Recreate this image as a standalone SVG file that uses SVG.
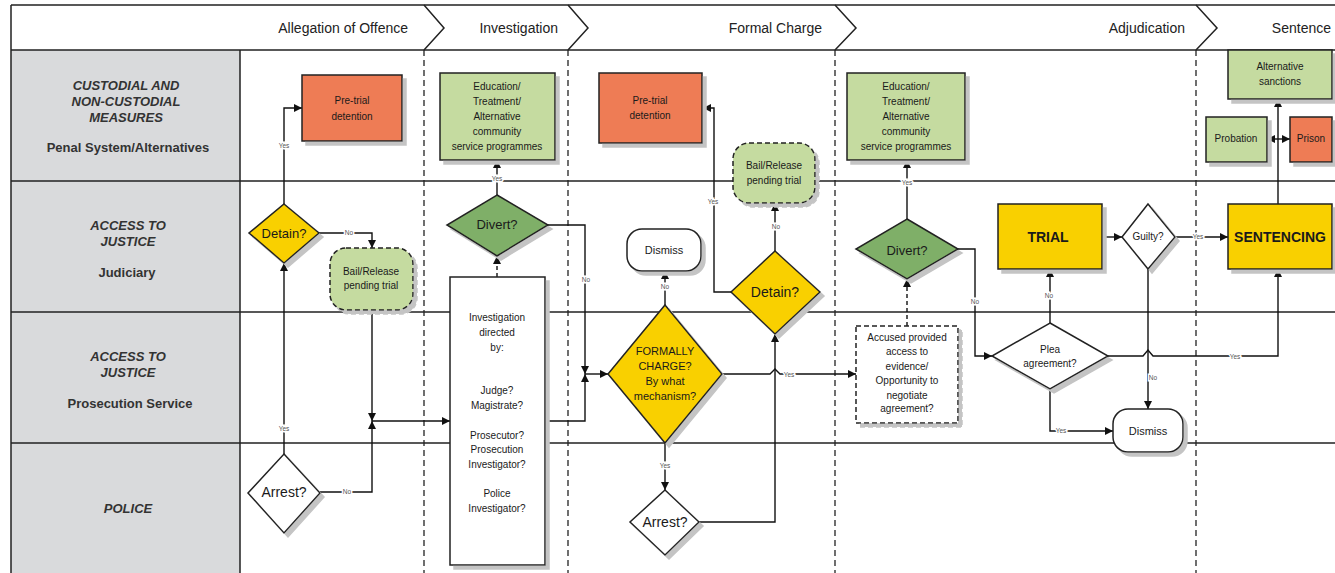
<svg xmlns="http://www.w3.org/2000/svg" width="1335" height="573" viewBox="0 0 1335 573">
<style>
text{font-family:"Liberation Sans",Arial,sans-serif;fill:#1a1a1a;text-anchor:middle}
.hd{font-size:14px;text-anchor:end;fill:#222}
.lane{font-size:13px;font-weight:bold;font-style:italic;fill:#333}
.sub{font-size:13px;font-weight:bold;fill:#333}
.grid{stroke:#222;stroke-width:1.5;fill:none}
.phase{stroke:#222;stroke-width:1.3;stroke-dasharray:6,4;fill:none}
.n{stroke:#222;stroke-width:1.5}
.dash{stroke-dasharray:5,3}
.org{fill:#EE7B55}
.lg{fill:#C5DBA0}
.dg{fill:#7FAF67}
.yl{fill:#F9D000}
.wh{fill:#fff}
.t10{font-size:10px}
.t11{font-size:11px}
.t13{font-size:13px}
.t14{font-size:14px}
.b14{font-size:14px;font-weight:bold}
.c{stroke:#111;stroke-width:1.4;fill:none;marker-end:url(#ah)}
.cn{stroke:#111;stroke-width:1.4;fill:none}
.cd{stroke-dasharray:4,3}
.lb{font-size:6.5px;fill:#555;stroke:#fff;stroke-width:3;paint-order:stroke}
</style>
<defs>
<marker id="ah" viewBox="0 0 10 10" refX="10" refY="5" markerWidth="8" markerHeight="8" markerUnits="userSpaceOnUse" orient="auto"><path d="M0,0 L10,5 L0,10 z" fill="#111"/></marker>
<filter id="sh" x="-10%" y="-10%" width="130%" height="130%"><feOffset in="SourceAlpha" dx="4" dy="4" result="o"/><feFlood flood-color="#c4c4c4"/><feComposite in2="o" operator="in" result="s"/><feMerge><feMergeNode in="s"/><feMergeNode in="SourceGraphic"/></feMerge></filter>
</defs>
<rect width="1335" height="573" fill="#fff"/>
<g id="frame">
<rect x="11" y="50" width="229" height="523" fill="#D9DADC"/>
<path class="grid" d="M11,5 H1335 M11,50 H1335 M11,181 H1335 M11,312 H1335 M11,443 H1335 M11,5 V573 M240,50 V573"/>
<path class="phase" d="M424,50 V573 M568,50 V573 M835,50 V573 M1196,50 V573"/>
<path class="grid" stroke-width="1.2" d="M424,5 L444,28 L424,50 M568,5 L588,28 L568,50 M835,5 L856,28 L835,50 M1196,5 L1217,28 L1196,50"/>
<text class="hd" x="408" y="33">Allegation of Offence</text>
<text class="hd" x="558" y="33">Investigation</text>
<text class="hd" x="822" y="33">Formal Charge</text>
<text class="hd" x="1185" y="33">Adjudication</text>
<text class="hd" x="1331" y="33">Sentence</text>
<text class="lane" x="126" y="90">CUSTODIAL AND</text>
<text class="lane" x="126" y="106">NON-CUSTODIAL</text>
<text class="lane" x="126" y="122">MEASURES</text>
<text class="sub" x="128" y="152">Penal System/Alternatives</text>
<text class="lane" x="128" y="230">ACCESS TO</text>
<text class="lane" x="128" y="246">JUSTICE</text>
<text class="sub" x="127" y="277">Judiciary</text>
<text class="lane" x="128" y="361">ACCESS TO</text>
<text class="lane" x="128" y="377">JUSTICE</text>
<text class="sub" x="130" y="408">Prosecution Service</text>
<text class="lane" x="128" y="513">POLICE</text>
</g>
<g id="connectors">
<path class="c" d="M284,454 V263"/>
<text class="lb" x="284" y="431">Yes</text>
<path class="c" d="M284,204 V108 H302"/>
<text class="lb" x="284" y="148">Yes</text>
<path class="c" d="M319,233 H372 V248"/>
<text class="lb" x="349" y="235">No</text>
<path class="c" d="M372,310 V421"/>
<path class="c" d="M319,492 H372 V421"/>
<text class="lb" x="347" y="494">No</text>
<path class="c" d="M372,421 H450"/>
<path class="c cd" d="M497,277 V256"/>
<path class="c" d="M497,195 V160"/>
<text class="lb" x="497" y="181">Yes</text>
<path class="c" d="M548,225 H585 V374"/>
<text class="lb" x="586" y="282">No</text>
<path class="c" d="M545,421 H585 V374"/>
<path class="c" d="M585,374 H608"/>
<path class="c" d="M665,305 V271"/>
<text class="lb" x="665" y="289">No</text>
<path class="c" d="M665,443 V490"/>
<text class="lb" x="665" y="468">Yes</text>
<path class="c" d="M699,522 H775 V334"/>
<path class="c" d="M722,374 H770 L775,369 L780,374 H856"/>
<text class="lb" x="789" y="377">Yes</text>
<path class="c" d="M775,251 V203"/>
<text class="lb" x="776" y="229">No</text>
<path class="c" d="M731,292 H714 V108 H703"/>
<text class="lb" x="713" y="204">Yes</text>
<path class="c cd" d="M907,326 V279"/>
<path class="c" d="M907,219 V160"/>
<text class="lb" x="907" y="185">Yes</text>
<path class="c" d="M958,249 H975 V356 H992"/>
<text class="lb" x="975" y="304">No</text>
<path class="c" d="M1050,323 V269"/>
<text class="lb" x="1049" y="298">No</text>
<path class="c" d="M1102,237 H1122"/>
<path class="c" d="M1175,237 H1228"/>
<text class="lb" x="1198" y="239">Yes</text>
<path class="c" d="M1148,269 V409"/>
<text class="lb" x="1153" y="380">No</text>
<path class="c" d="M1108,356 H1143 L1148,350 L1153,356 H1278 V269"/>
<text class="lb" x="1235" y="359">Yes</text>
<path class="c" d="M1050,389 V431 H1113"/>
<text class="lb" x="1061" y="433">Yes</text>
<path class="c" d="M1278,204 V99"/>
<path class="c" d="M1278,139 H1267"/>
<path class="c" d="M1278,139 H1290"/>
</g>
<g id="pretrial1"><rect class="n org" x="302" y="75" width="100" height="66" filter="url(#sh)"/><text class="t10" x="352" y="104">Pre-trial</text><text class="t10" x="352" y="120">detention</text></g>
<g id="edu1"><rect class="n lg" x="440" y="73" width="115" height="87" filter="url(#sh)"/><text class="t10" x="497" y="90">Education/</text><text class="t10" x="497" y="105">Treatment/</text><text class="t10" x="497" y="120">Alternative</text><text class="t10" x="497" y="135">community</text><text class="t10" x="497" y="150">service programmes</text></g>
<g id="pretrial2"><rect class="n org" x="599" y="73" width="103" height="70" filter="url(#sh)"/><text class="t10" x="650" y="104">Pre-trial</text><text class="t10" x="650" y="119">detention</text></g>
<g id="bail2"><rect class="n lg dash" x="733" y="143" width="82" height="60" rx="16" filter="url(#sh)"/><text class="t10" x="774" y="169">Bail/Release</text><text class="t10" x="774" y="184">pending trial</text></g>
<g id="edu2"><rect class="n lg" x="847" y="73" width="118" height="87" filter="url(#sh)"/><text class="t10" x="906" y="90">Education/</text><text class="t10" x="906" y="105">Treatment/</text><text class="t10" x="906" y="120">Alternative</text><text class="t10" x="906" y="135">community</text><text class="t10" x="906" y="150">service programmes</text></g>
<g id="altsanctions"><rect class="n lg" x="1228" y="50" width="104" height="49" filter="url(#sh)"/><text class="t10" x="1280" y="70">Alternative</text><text class="t10" x="1280" y="85">sanctions</text></g>
<g id="probation"><rect class="n lg" x="1206" y="117" width="61" height="45" filter="url(#sh)"/><text class="t10" x="1236" y="142">Probation</text></g>
<g id="prison"><rect class="n org" x="1290" y="117" width="42" height="45" filter="url(#sh)"/><text class="t10" x="1311" y="142">Prison</text></g>
<g id="detain1"><path class="n yl" d="M284,204 L319,233 L284,263 L249,233 Z" filter="url(#sh)"/><text class="t13" x="284" y="238">Detain?</text></g>
<g id="bail1"><rect class="n lg dash" x="330" y="248" width="83" height="62" rx="16" filter="url(#sh)"/><text class="t10" x="371" y="275">Bail/Release</text><text class="t10" x="371" y="289">pending trial</text></g>
<g id="divert1"><path class="n dg" d="M497,195 L548,225 L497,256 L447,225 Z" filter="url(#sh)"/><text class="t13" x="497" y="229">Divert?</text></g>
<g id="dismiss1"><rect class="n wh" x="627" y="229" width="74" height="42" rx="15" filter="url(#sh)"/><text class="t11" x="664" y="254">Dismiss</text></g>
<g id="detain2"><path class="n yl" d="M775,251 L820,292 L775,334 L731,292 Z" filter="url(#sh)"/><text class="t14" x="775" y="297">Detain?</text></g>
<g id="divert2"><path class="n dg" d="M907,219 L958,249 L907,279 L856,249 Z" filter="url(#sh)"/><text class="t13" x="907" y="255">Divert?</text></g>
<g id="trial"><rect class="n yl" x="998" y="204" width="104" height="65" filter="url(#sh)"/><text class="b14" x="1048" y="242">TRIAL</text></g>
<g id="guilty"><path class="n wh" d="M1148,204 L1175,237 L1148,269 L1122,237 Z" filter="url(#sh)"/><text class="t10" x="1148" y="240">Guilty?</text></g>
<g id="sentencing"><rect class="n yl" x="1228" y="204" width="104" height="65" filter="url(#sh)"/><text class="b14" x="1280" y="242">SENTENCING</text></g>
<g id="investigation"><rect class="n wh" x="450" y="277" width="95" height="288" filter="url(#sh)"/><text class="t10" x="497" y="321">Investigation</text><text class="t10" x="497" y="336">directed</text><text class="t10" x="497" y="351">by:</text><text class="t10" x="497" y="394">Judge?</text><text class="t10" x="497" y="409">Magistrate?</text><text class="t10" x="497" y="439">Prosecutor?</text><text class="t10" x="497" y="453">Prosecution</text><text class="t10" x="497" y="468">Investigator?</text><text class="t10" x="497" y="497">Police</text><text class="t10" x="497" y="512">Investigator?</text></g>
<g id="formallycharge"><path class="n yl" d="M665,305 L722,374 L665,443 L608,374 Z" filter="url(#sh)"/><text class="t11" x="665" y="355">FORMALLY</text><text class="t11" x="665" y="370">CHARGE?</text><text class="t11" x="665" y="385">By what</text><text class="t11" x="665" y="400">mechanism?</text></g>
<g id="accused"><rect class="n wh dash" x="856" y="326" width="102" height="97" filter="url(#sh)"/><text class="t10" x="907" y="341">Accused provided</text><text class="t10" x="907" y="355">access to</text><text class="t10" x="907" y="370">evidence/</text><text class="t10" x="907" y="384">Opportunity to</text><text class="t10" x="907" y="399">negotiate</text><text class="t10" x="907" y="412">agreement?</text></g>
<g id="plea"><path class="n wh" d="M1050,323 L1108,356 L1050,389 L992,356 Z" filter="url(#sh)"/><text class="t10" x="1050" y="353">Plea</text><text class="t10" x="1050" y="367">agreement?</text></g>
<g id="dismiss2"><rect class="n wh" x="1113" y="409" width="70" height="43" rx="15" filter="url(#sh)"/><text class="t11" x="1148" y="435">Dismiss</text></g>
<g id="arrest1"><path class="n wh" d="M284,454 L320,493 L284,533 L248,493 Z" filter="url(#sh)"/><text class="t14" x="284" y="497">Arrest?</text></g>
<g id="arrest2"><path class="n wh" d="M665,490 L699,522 L665,555 L630,522 Z" filter="url(#sh)"/><text class="t14" x="665" y="527">Arrest?</text></g>
</svg>
